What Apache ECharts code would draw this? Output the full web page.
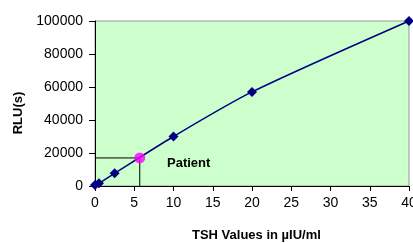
<!DOCTYPE html>
<html>
<head>
<meta charset="utf-8">
<script src="https://cdn.jsdelivr.net/npm/echarts@6/dist/echarts.min.js"></script>
<style>
html,body{margin:0;padding:0;background:#fff;}
#chart{width:413px;height:243px;}
</style>
</head>
<body>
<div id="chart"></div>
<script>
// standard curve: TSH (uIU/ml) vs RLU(s)
var tshValues = [0, 0.5, 2.5, 10, 20, 40];
var rluValues = [600, 1600, 7700, 30000, 57000, 100000];
// patient reading
var patientTsh = 5.7;
var patientRlu = 17000;
var xTicks = [0, 5, 10, 15, 20, 25, 30, 35, 40];
var yTicks = [0, 20000, 40000, 60000, 80000, 100000];

var curve = [];
for (var i = 0; i < tshValues.length; i++) {
	curve.push([tshValues[i], rluValues[i]]);
}
var guide = [[0, patientRlu], [patientTsh, patientRlu], [patientTsh, 0]];

var myChart = echarts.init(document.getElementById('chart'));
var option = {
	animation: false,
	textStyle: {fontFamily: 'Liberation Sans, Arial, sans-serif'},
	grid: {left: 95, top: 21, right: 4, bottom: 57, outerBoundsMode: 'none', containLabel: false,
		show: true, backgroundColor: '#ccffcc', borderColor: '#999999', borderWidth: 1},
	xAxis: {
		type: 'value', min: xTicks[0], max: xTicks[xTicks.length - 1], interval: 5,
		axisLine: {show: true, onZero: false, lineStyle: {color: '#000', width: 1}},
		axisTick: {show: true, length: 5, lineStyle: {color: '#000'}},
		axisLabel: {color: '#000', fontSize: 14, margin: 10, hideOverlap: false},
		splitLine: {show: false}
	},
	yAxis: {
		type: 'value', min: yTicks[0], max: yTicks[yTicks.length - 1], interval: 20000,
		axisLine: {show: true, lineStyle: {color: '#000', width: 1}},
		axisTick: {show: true, length: 6, lineStyle: {color: '#000'}},
		axisLabel: {color: '#000', fontSize: 14, margin: 12, formatter: function (v) { return String(v); }},
		splitLine: {show: false}
	},
	series: [
		{
			name: 'guide', type: 'line', data: guide, symbol: 'none', silent: true,
			lineStyle: {color: '#000', width: 1}, z: 2
		},
		{
			name: 'standards', type: 'line', data: curve, smooth: 0.25,
			symbol: 'diamond', symbolSize: 10,
			itemStyle: {color: '#000080'},
			lineStyle: {color: '#000080', width: 1.5}, z: 3
		},
		{
			name: 'patient', type: 'scatter', data: [[patientTsh, patientRlu]],
			symbol: 'circle', symbolSize: 11,
			itemStyle: {color: '#ff00ff'}, z: 4
		}
	],
	graphic: [
		{type: 'text', left: 167, top: 157, style: {text: 'Patient', font: 'bold 13px Liberation Sans, Arial, sans-serif', fill: '#000'}},
		{type: 'text', left: 192, top: 229, style: {text: 'TSH Values in µIU/ml', font: 'bold 13px Liberation Sans, Arial, sans-serif', fill: '#000'}},
		{type: 'text', x: 18, y: 113, rotation: Math.PI / 2, style: {text: 'RLU(s)', font: 'bold 13px Liberation Sans, Arial, sans-serif', fill: '#000', align: 'center', verticalAlign: 'middle'}}
	]
};
myChart.setOption(option);
</script>
</body>
</html>
